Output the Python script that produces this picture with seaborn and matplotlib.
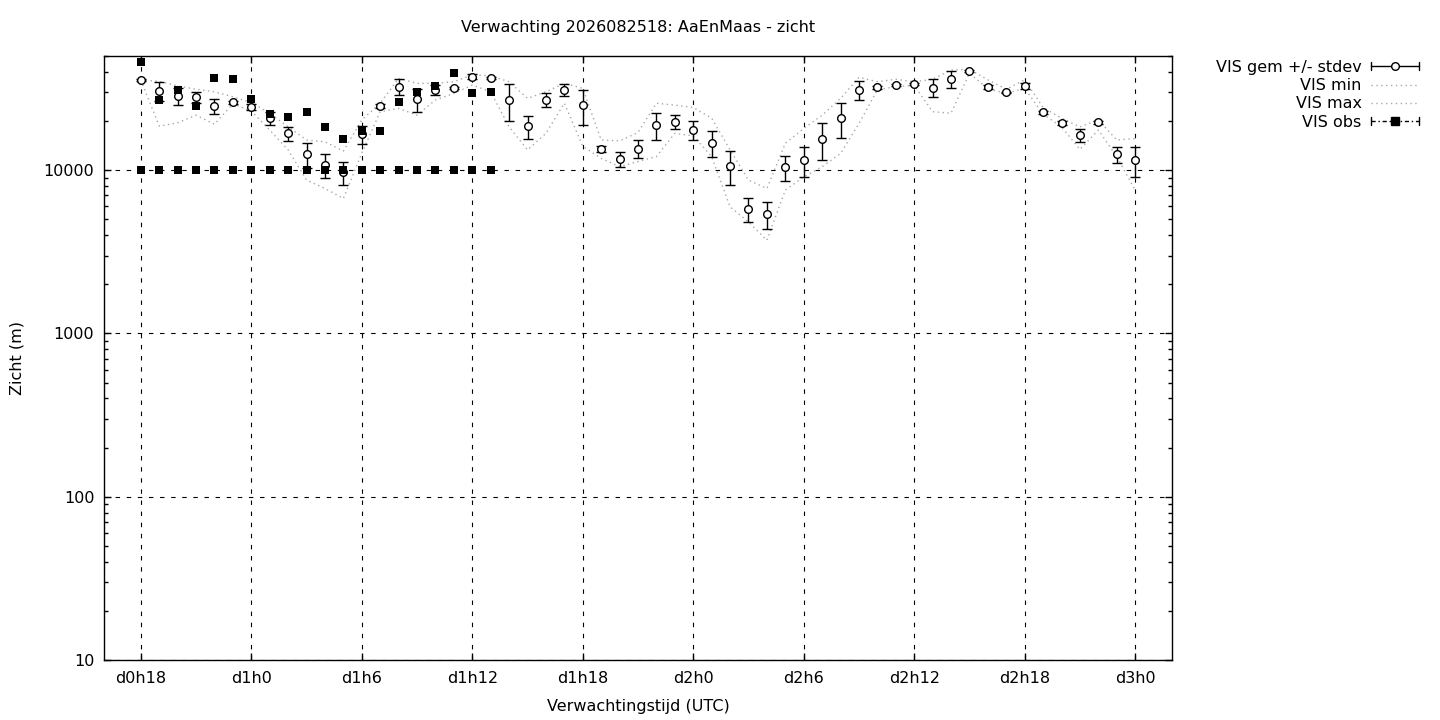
import matplotlib
matplotlib.use("Agg")
import numpy as np
import seaborn as sns
from matplotlib import pyplot as plt
from matplotlib import ticker
from matplotlib.lines import Line2D
from matplotlib.legend_handler import HandlerBase

# forecast hours since d0h0
hours = [18, 19, 20, 21, 22, 23, 24, 25, 26, 27, 28, 29, 30, 31, 32, 33, 34, 35, 36,
         37, 38, 39, 40, 41, 42, 43, 44, 45, 46, 47, 48, 49, 50, 51, 52, 53, 54, 55,
         56, 57, 58, 59, 60, 61, 62, 63, 64, 65, 66, 67, 68, 69, 70, 71, 72]

vis_mean = [35600, 30500, 28400, 27900, 24700, 26000, 24500, 20800, 16800, 12500,
            10800, 9680, 16600, 24700, 32400, 27100, 31000, 31700, 37400, 36700,
            26900, 18600, 26900, 31000, 25000, 13500, 11700, 13500, 18900, 19800,
            17600, 14700, 10600, 5770, 5370, 10400, 11500, 15500, 20800, 31000,
            32200, 33200, 33700, 32000, 36200, 40500, 32400, 30000, 32800, 22600,
            19500, 16400, 19600, 12500, 11500]

vis_sd = [300, 4000, 3500, 2200, 2500, 500, 1000, 1800, 1700, 2200,
          1800, 1600, 2100, 600, 3600, 4500, 2000, 500, 1500, 500,
          7000, 3000, 2600, 2500, 6000, 600, 1200, 1700, 3500, 2000,
          2300, 2700, 2500, 950, 1000, 1800, 2400, 3900, 5000, 4000,
          700, 500, 500, 4000, 4500, 600, 800, 300, 1500, 500,
          600, 1500, 400, 1400, 2400]

vis_min = [35600, 18600, 19500, 21700, 19100, 25500, 23000, 17600, 13300, 8690,
           7720, 6700, 12700, 22800, 23900, 21700, 26900, 29500, 33200, 30200,
           18400, 13300, 16800, 25700, 14000, 11800, 10500, 11300, 12100, 16800,
           16200, 12100, 5960, 4820, 3720, 7540, 9100, 10500, 12650, 19300,
           31000, 32500, 33000, 22800, 22300, 39200, 31500, 29500, 31700, 22000,
           18400, 13400, 17600, 12100, 7540]

vis_max = [35600, 35000, 32800, 31300, 30200, 28100, 26000, 22300, 18400, 15300,
           14900, 13100, 20300, 25700, 36500, 34000, 34000, 34800, 38300, 37800,
           34800, 27500, 30200, 34000, 31700, 15300, 15100, 17000, 25700, 25000,
           24200, 20800, 13300, 8690, 7720, 14600, 18000, 21700, 27500, 37000,
           34800, 36000, 34800, 36000, 41000, 41500, 35700, 31300, 35700, 24200,
           20800, 18400, 20300, 15300, 15600]

# observations (two stations)
obs_hours = [18, 19, 20, 21, 22, 23, 24, 25, 26, 27, 28, 29, 30, 31, 32, 33, 34, 35, 36, 37]
obs_low = [10000, 10000, 10000, 10000, 10000, 10000, 10000, 10000, 10000, 10000,
           10000, 10000, 10000, 10000, 10000, 10000, 10000, 10000, 10000, 10000]
obs_high = [46200, 26900, 31000, 24700, 36500, 36000, 27300, 22000, 21200, 22600,
            18400, 15600, 17400, 17400, 26000, 30200, 32800, 39200, 29500, 30200]

xtick_hours = [18, 24, 30, 36, 42, 48, 54, 60, 66, 72]
xtick_labels = ["d0h18", "d1h0", "d1h6", "d1h12", "d1h18", "d2h0", "d2h6", "d2h12", "d2h18", "d3h0"]
ytick_values = [10, 100, 1000, 10000]
ytick_labels = ["10", "100", "1000", "10000"]

GREY = "#a8a8a8"
DOT = (0, (1, 2.5))
FS = 11.5


class KeySample(HandlerBase):
    # gnuplot-like key sample: line with end caps and a point in the middle
    def __init__(self, ls="-", color="black", caps=False, marker=None, face="white"):
        super().__init__()
        self.ls, self.color, self.caps = ls, color, caps
        self.marker, self.face = marker, face

    def create_artists(self, legend, orig_handle, xdescent, ydescent,
                       width, height, fontsize, trans):
        x0, x1 = -xdescent, width - xdescent
        y = (height - ydescent) / 2
        h = height * 0.35
        arts = [Line2D([x0, x1], [y, y], ls=self.ls, color=self.color, lw=1)]
        if self.caps:
            arts.append(Line2D([x0, x0], [y - h, y + h], color="black", lw=1))
            arts.append(Line2D([x1, x1], [y - h, y + h], color="black", lw=1))
        if self.marker:
            arts.append(Line2D([(x0 + x1) / 2], [y], ls="none", marker=self.marker,
                               mfc=self.face, mec="black", ms=5.5, mew=1))
        for a in arts:
            a.set_transform(trans)
        return arts


sns.set_style("ticks", {"xtick.direction": "in", "ytick.direction": "in",
                        "text.color": "black", "axes.labelcolor": "black"})

fig = plt.figure(figsize=(14.4, 7.2), dpi=100)
ax = fig.add_axes([104 / 1440, 60 / 720, (1172 - 104) / 1440, (660 - 56) / 720])

sns.lineplot(x=hours, y=vis_min, ax=ax, color=GREY, lw=1, linestyle=DOT, zorder=2)
sns.lineplot(x=hours, y=vis_max, ax=ax, color=GREY, lw=1, linestyle=DOT, zorder=2)

ax.errorbar(hours, vis_mean, yerr=vis_sd, fmt="o", color="black", mfc="white",
            mec="black", ms=5.5, mew=1, ecolor="black", elinewidth=1,
            capsize=3.5, capthick=1, zorder=4)

sns.scatterplot(x=obs_hours, y=obs_low, ax=ax, marker="s", s=38, color="black",
                linewidth=0, zorder=5)
sns.scatterplot(x=obs_hours, y=obs_high, ax=ax, marker="s", s=38, color="black",
                linewidth=0, zorder=5)

ax.set_yscale("log")
ax.set_xlim(16, 74)
ax.set_ylim(10, 50000)

ax.set_xticks(xtick_hours)
ax.set_xticklabels(xtick_labels)
ax.yaxis.set_major_locator(ticker.FixedLocator(ytick_values))
ax.yaxis.set_major_formatter(ticker.FixedFormatter(ytick_labels))
ax.yaxis.set_minor_locator(ticker.LogLocator(base=10, subs=np.arange(2, 10)))
ax.yaxis.set_minor_formatter(ticker.NullFormatter())
ax.xaxis.set_minor_locator(ticker.NullLocator())

ax.tick_params(which="both", direction="in", top=True, right=True, colors="black",
               labelsize=FS, width=1)
ax.tick_params(which="major", length=5)
ax.tick_params(which="minor", length=3)
ax.tick_params(axis="x", pad=8)
ax.tick_params(axis="y", pad=7)

for s in ax.spines.values():
    s.set_visible(True)
    s.set_color("black")
    s.set_linewidth(1)

ax.grid(True, which="major", color="black", ls=(0, (4, 6)), lw=0.8, zorder=1)
ax.set_axisbelow(True)

ax.set_title("Verwachting 2026082518: AaEnMaas - zicht", fontsize=FS, pad=17)
ax.set_xlabel("Verwachtingstijd (UTC)", fontsize=FS, labelpad=9.5)
ax.set_ylabel("Zicht (m)", fontsize=FS, labelpad=14)

proxies = [Line2D([], []) for _ in range(4)]
handlers = {
    proxies[0]: KeySample(ls="-", caps=True, marker="o", face="white"),
    proxies[1]: KeySample(ls=DOT, color=GREY),
    proxies[2]: KeySample(ls=DOT, color=GREY),
    proxies[3]: KeySample(ls=(0, (3, 2, 1, 2)), caps=True, marker="s", face="black"),
}
fig.legend(proxies, ["VIS gem +/- stdev", "VIS min", "VIS max", "VIS obs"],
           handler_map=handlers, loc="upper right",
           bbox_to_anchor=(1427 / 1440, 1 - 52 / 720), frameon=False,
           markerfirst=False, handlelength=3.0, fontsize=FS, labelspacing=0.2,
           borderpad=0, handletextpad=0.6)

fig.savefig("out.png", dpi=100)
